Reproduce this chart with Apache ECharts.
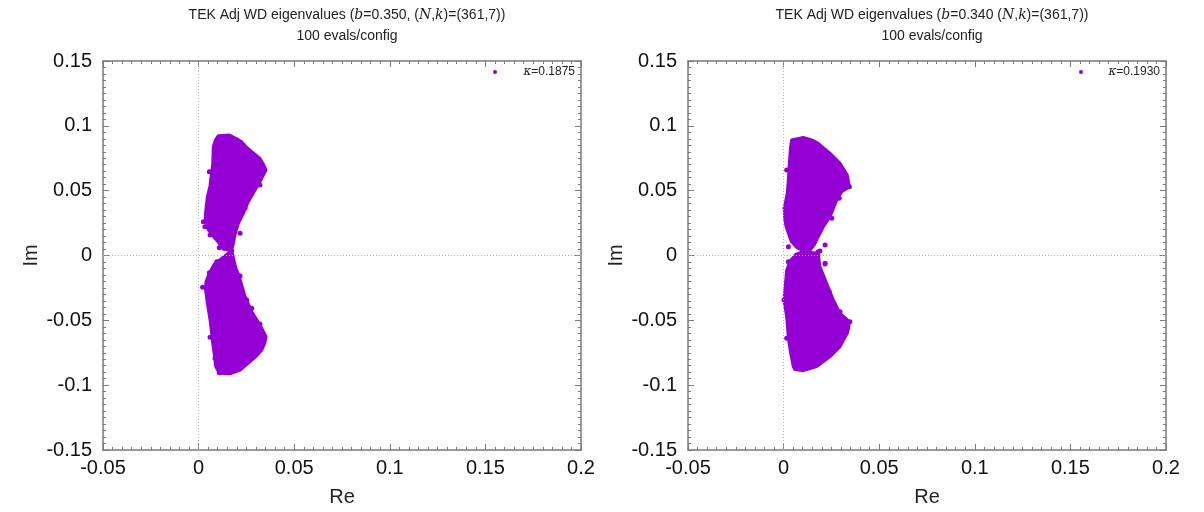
<!DOCTYPE html>
<html>
<head>
<meta charset="utf-8">
<script src="https://cdn.jsdelivr.net/npm/echarts@6/dist/echarts.min.js"></script>
<style>
  html, body { margin: 0; padding: 0; background: #fff; }
  #chart { width: 1204px; height: 512px; }
</style>
</head>
<body>
<div id="chart"></div>
<script>
// axis ticks
const xTicks = [-0.05, 0, 0.05, 0.1, 0.15, 0.2];
const yTicks = [-0.15, -0.1, -0.05, 0, 0.05, 0.1, 0.15];

const kappaLeft = '0.1875';
const kappaRight = '0.1930';

// outline of the dense eigenvalue clouds [Re, Im]
const leftUpper = [
	[0.0103, 0.0924], [0.0161, 0.0929], [0.0200, 0.0900], [0.0225, 0.0877], [0.0250, 0.0835],
	[0.0278, 0.0800], [0.0321, 0.0749], [0.0340, 0.0700], [0.0353, 0.0659], [0.0335, 0.0610],
	[0.0321, 0.0569], [0.0290, 0.0492], [0.0260, 0.0415], [0.0234, 0.0325], [0.0208, 0.0248],
	[0.0190, 0.0158], [0.0180, 0.0080], [0.0173, 0.0045], [0.0129, 0.0048], [0.0105, 0.0100],
	[0.0075, 0.0150], [0.0051, 0.0197], [0.0036, 0.0260], [0.0036, 0.0325], [0.0046, 0.0453],
	[0.0060, 0.0540], [0.0063, 0.0582], [0.0070, 0.0660], [0.0074, 0.0711], [0.0077, 0.0839],
	[0.0088, 0.0890]
];
const leftLower = [
	[0.0173, 0.0037], [0.0185, -0.0035], [0.0195, -0.0100], [0.0210, -0.0150], [0.0243, -0.0318],
	[0.0278, -0.0433], [0.0321, -0.0536], [0.0353, -0.0626], [0.0345, -0.0680], [0.0330, -0.0729],
	[0.0300, -0.0780], [0.0278, -0.0806], [0.0217, -0.0883], [0.0164, -0.0912], [0.0108, -0.0908],
	[0.0088, -0.0850], [0.0086, -0.0806], [0.0074, -0.0677], [0.0060, -0.0497], [0.0046, -0.0369],
	[0.0036, -0.0260], [0.0039, -0.0200], [0.0056, -0.0137], [0.0080, -0.0070], [0.0105, -0.0040],
	[0.0135, -0.0005]
];
const rightUpper = [
	[0.0042, 0.0891], [0.0103, 0.0911], [0.0150, 0.0890], [0.0181, 0.0865], [0.0243, 0.0788],
	[0.0295, 0.0711], [0.0333, 0.0621], [0.0344, 0.0530], [0.0304, 0.0492], [0.0278, 0.0428],
	[0.0260, 0.0360], [0.0243, 0.0299], [0.0208, 0.0222], [0.0181, 0.0145], [0.0160, 0.0080],
	[0.0140, 0.0045], [0.0103, 0.0038], [0.0070, 0.0060], [0.0040, 0.0110], [0.0025, 0.0171],
	[0.0012, 0.0230], [0.0005, 0.0299], [0.0005, 0.0376], [0.0019, 0.0480], [0.0025, 0.0582],
	[0.0030, 0.0711], [0.0037, 0.0839]
];
const rightLower = [
	[0.0103, 0.0029], [0.0181, 0.0017], [0.0190, -0.0086], [0.0225, -0.0214], [0.0260, -0.0343],
	[0.0295, -0.0446], [0.0344, -0.0510], [0.0340, -0.0560], [0.0333, -0.0600], [0.0295, -0.0703],
	[0.0243, -0.0780], [0.0173, -0.0857], [0.0103, -0.0888], [0.0060, -0.0880], [0.0051, -0.0860],
	[0.0037, -0.0754], [0.0025, -0.0638], [0.0016, -0.0472], [0.0002, -0.0343], [0.0010, -0.0214],
	[0.0016, -0.0112], [0.0035, -0.0040], [0.0065, 0.0010]
];

// loose points around the clouds
const leftStray = [
	[0.0025, 0.0261], [0.0033, 0.0222], [0.0060, 0.0158], [0.0091, 0.0808], [0.0056, 0.0646],
	[0.0321, 0.0544], [0.0278, 0.0500], [0.0243, 0.0364], [0.0217, 0.0171], [0.0108, 0.0060],
	[0.0164, 0.0037], [0.0021, -0.0245], [0.0056, -0.0133], [0.0095, -0.0048], [0.0116, -0.0048],
	[0.0173, 0.0037], [0.0181, -0.0117], [0.0217, -0.0158], [0.0252, -0.0343], [0.0278, -0.0407],
	[0.0321, -0.0528], [0.0060, -0.0631], [0.0086, -0.0793], [0.0108, -0.0904]
];
const rightStray = [
	[0.0016, 0.0659], [0.0007, 0.0364], [0.0013, 0.0274], [0.0025, 0.0068], [0.0344, 0.0530],
	[0.0291, 0.0441], [0.0252, 0.0287], [0.0217, 0.0081], [0.0181, 0.0029], [0.0103, 0.0029],
	[0.0025, -0.0048], [0.0217, -0.0060], [0.0217, -0.0066], [0.0002, -0.0343], [0.0016, -0.0638],
	[0.0239, -0.0279], [0.0295, -0.0433], [0.0347, -0.0510], [0.0190, 0.0035]
];

const PURPLE = '#9400d3';
const BORDER = '#7a7a7a';
const FONT = '"Liberation Sans", Arial, sans-serif';

const grids = [
	{ left: 103, top: 61, width: 478, height: 389, outerBoundsMode: 'none' },
	{ left: 688, top: 61, width: 478, height: 389, outerBoundsMode: 'none' }
];

function xAx(g, pos) {
	return {
		type: 'value', gridIndex: g, position: pos,
		min: xTicks[0], max: xTicks[xTicks.length - 1], interval: 0.05,
		name: pos === 'bottom' ? 'Re' : '', nameLocation: 'middle', nameGap: 37,
		nameTextStyle: { fontSize: 20, color: '#222', fontFamily: FONT },
		axisLine: { show: true, onZero: false, lineStyle: { color: BORDER, width: 1.5 } },
		axisTick: { show: true, inside: true, length: 6, lineStyle: { color: BORDER } },
		minorTick: { show: true, splitNumber: 10, length: 3, lineStyle: { color: BORDER } },
		axisLabel: { show: pos === 'bottom', fontSize: 20, color: '#111', margin: 8, fontFamily: FONT },
		splitLine: { show: false }
	};
}
function yAx(g, pos) {
	return {
		type: 'value', gridIndex: g, position: pos,
		min: yTicks[0], max: yTicks[yTicks.length - 1], interval: 0.05,
		name: pos === 'left' ? 'Im' : '', nameLocation: 'middle', nameGap: 62, nameRotate: 90,
		nameTextStyle: { fontSize: 20, color: '#222', fontFamily: FONT },
		axisLine: { show: true, onZero: false, lineStyle: { color: BORDER, width: 1.5 } },
		axisTick: { show: true, inside: true, length: 6, lineStyle: { color: BORDER } },
		minorTick: { show: true, splitNumber: 10, length: 3, lineStyle: { color: BORDER } },
		axisLabel: { show: pos === 'left', fontSize: 20, color: '#111', margin: 11, fontFamily: FONT },
		splitLine: { show: false }
	};
}

function cloudSeries(g, lobes) {
	return {
		type: 'custom', xAxisIndex: g * 2, yAxisIndex: g * 2, silent: true,
		data: lobes.map((_, i) => i),
		renderItem: function (params, api) {
			const pts = lobes[params.dataIndex].map(p => api.coord(p));
			return {
				type: 'polygon',
				shape: { points: pts },
				style: { fill: PURPLE, stroke: PURPLE, lineWidth: 3, lineJoin: 'round' }
			};
		},
		z: 3
	};
}
function straySeries(g, pts) {
	return {
		type: 'scatter', xAxisIndex: g * 2, yAxisIndex: g * 2, silent: true,
		data: pts, symbol: 'circle', symbolSize: 5,
		itemStyle: { color: PURPLE, opacity: 1 },
		markLine: {
			silent: true, symbol: 'none', label: { show: false },
			lineStyle: { color: '#b0b0b0', type: [1, 2], width: 1 },
			data: [{ xAxis: 0 }, { yAxis: 0 }]
		},
		z: 4
	};
}

const italic = { fontFamily: '"DejaVu Serif", "Liberation Serif", serif', fontStyle: 'italic', fontSize: 14, color: '#222' };
function titles(cx, bText) {
	return [{
		text: 'TEK Adj WD eigenvalues (' + bText + ' ({i|N},{i|k})=(361,7))',
		left: cx, top: 3, textAlign: 'center',
		textStyle: { fontSize: 14, fontWeight: 'normal', color: '#222', fontFamily: FONT, rich: { i: italic } }
	}, {
		text: '100 evals/config',
		left: cx, top: 24, textAlign: 'center',
		textStyle: { fontSize: 14, fontWeight: 'normal', color: '#222', fontFamily: FONT }
	}];
}

function legendBits(dotX, textRight, kappa) {
	return [{
		type: 'circle', shape: { cx: dotX, cy: 72, r: 2 }, style: { fill: PURPLE }
	}, {
		type: 'text', x: textRight, y: 72,
		style: {
			text: '{i|κ}=' + kappa, align: 'right', verticalAlign: 'middle',
			fontSize: 12, fill: '#222', fontFamily: FONT,
			rich: { i: { fontFamily: '"DejaVu Serif", serif', fontStyle: 'italic', fontSize: 12, fill: '#222' } }
		}
	}];
}

const chart = echarts.init(document.getElementById('chart'), null, { renderer: 'canvas' });
chart.setOption({
	animation: false,
	backgroundColor: '#fff',
	title: [].concat(titles(342, '{i|b}=0.350,'), titles(927, '{i|b}=0.340')),
	grid: grids,
	xAxis: [xAx(0, 'bottom'), xAx(0, 'top'), xAx(1, 'bottom'), xAx(1, 'top')],
	yAxis: [yAx(0, 'left'), yAx(0, 'right'), yAx(1, 'left'), yAx(1, 'right')],
	series: [
		cloudSeries(0, [leftUpper, leftLower]),
		straySeries(0, leftStray),
		cloudSeries(1, [rightUpper, rightLower]),
		straySeries(1, rightStray)
	],
	graphic: [].concat(legendBits(495, 575, kappaLeft), legendBits(1081, 1160, kappaRight))
});
</script>
</body>
</html>
